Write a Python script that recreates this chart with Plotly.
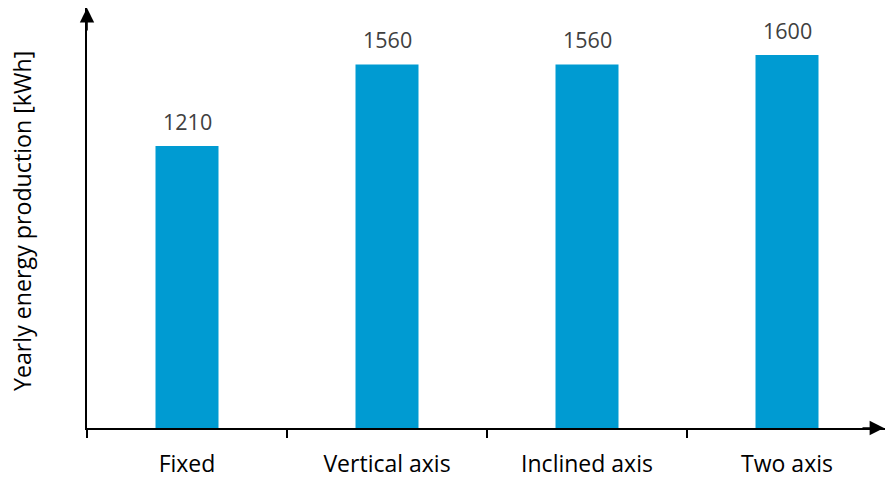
import plotly.graph_objects as go

# Yearly energy yield per tracking configuration
categories = ["Fixed", "Vertical axis", "Inclined axis", "Two axis"]
energy_kwh = [1210, 1560, 1560, 1600]

BAR_COLOR = "#009bd2"
FONT = "Open Sans"

fig = go.Figure(
    go.Bar(
        x=categories,
        y=energy_kwh,
        width=0.315,
        marker=dict(color=BAR_COLOR, line=dict(width=0)),
        hoverinfo="skip",
    )
)

# value labels above each bar
for cat, val in zip(categories, energy_kwh):
    fig.add_annotation(
        x=cat, y=val, text=str(val), showarrow=False,
        yanchor="bottom", yshift=8,
        font=dict(family=FONT, size=21.5, color="#404040"),
    )

# axis arrowheads
fig.add_annotation(
    xref="paper", yref="paper", x=0, y=1, ax=0, ay=24, text="",
    showarrow=True, arrowhead=2, arrowsize=1.8, arrowwidth=1.6, arrowcolor="black",
)
fig.add_annotation(
    xref="paper", yref="paper", x=1, y=0, ax=-24, ay=0, text="",
    showarrow=True, arrowhead=2, arrowsize=1.8, arrowwidth=1.6, arrowcolor="black",
)

# rotated y title
fig.add_annotation(
    xref="paper", yref="paper", x=0, y=0.5, xshift=-83, yshift=-3,
    text="Yearly energy production [kWh]", textangle=-90, showarrow=False,
    font=dict(family=FONT, size=23.2, color="black"),
)

fig.update_layout(
    width=885, height=480,
    margin=dict(l=87, r=0, t=8, b=52),
    paper_bgcolor="white", plot_bgcolor="white",
    showlegend=False,
    font=dict(family=FONT, size=23, color="black"),
    xaxis=dict(
        type="category",
        range=[-0.5, 3.49],
        showline=True, linecolor="black", linewidth=1.6,
        ticks="outside", ticklen=15, tickcolor="rgba(0,0,0,0)",
        tickfont=dict(family=FONT, size=23, color="black"),
        showgrid=False, zeroline=False,
        minor=dict(tickvals=[-0.5, 0.5, 1.5, 2.5], ticks="outside",
                   ticklen=8, tickcolor="black", tickwidth=1.6, showgrid=False),
    ),
    yaxis=dict(
        range=[0, 1802],
        showline=True, linecolor="black", linewidth=1.6,
        showticklabels=False, ticks="", showgrid=False, zeroline=False,
    ),
)

fig.write_html("out.html")
